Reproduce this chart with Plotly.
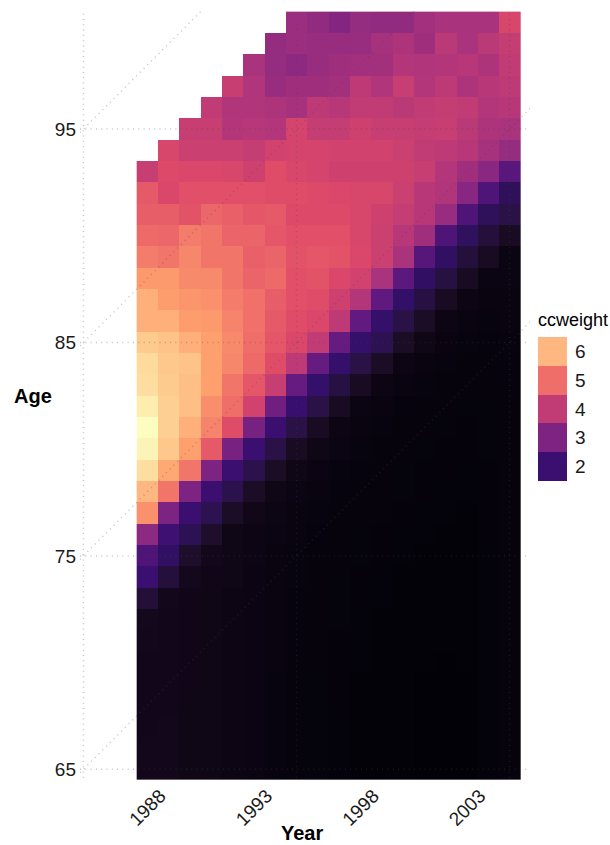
import plotly.graph_objects as go

N = None
years = list(range(1988, 2006))
ages = list(range(65, 101))
year_ticks = [1988, 1993, 1998, 2003]
age_ticks = [65, 75, 85, 95]
grid_years = [1985, 1995, 2005]
grid_ages = [65, 75, 85, 95]
cohort_starts = [65, 75, 85, 95]
legend_values = [2, 3, 4, 5, 6]

# one row per age, 65 upward; columns are 1988..2005
age_65 = [1.05,1.05,1.0,1.0,.98,.95,.92,.9,.88,.86,.85,.84,.84,.83,.83,.83,.86,.9]
age_66 = [1.05,1.05,1.0,1.0,.98,.95,.92,.9,.88,.86,.85,.84,.84,.83,.83,.83,.86,.9]
age_67 = [1.04,1.05,1.0,1.0,.98,.95,.92,.9,.88,.86,.85,.84,.84,.83,.83,.83,.86,.9]
age_68 = [1.04,1.04,1.0,1.0,.98,.95,.92,.9,.88,.87,.85,.84,.84,.83,.83,.83,.86,.9]
age_69 = [1.04,1.04,1.01,1.0,.98,.95,.92,.9,.88,.87,.85,.85,.84,.83,.83,.83,.86,.9]
age_70 = [1.04,1.04,1.01,1.0,.98,.95,.93,.9,.89,.87,.86,.85,.84,.84,.83,.84,.86,.9]
age_71 = [1.05,1.04,1.01,1.0,.98,.96,.93,.91,.89,.87,.86,.85,.85,.84,.84,.84,.86,.9]
age_72 = [1.08,1.04,1.02,1.0,.98,.96,.93,.91,.89,.88,.86,.85,.85,.84,.84,.84,.86,.9]
age_73 = [1.35,1.05,1.02,1.0,.98,.96,.93,.91,.89,.88,.87,.86,.85,.85,.84,.84,.86,.9]
age_74 = [2.0,1.4,1.08,1.02,1.0,.96,.93,.92,.9,.88,.87,.86,.85,.85,.85,.84,.86,.9]
age_75 = [2.3,1.8,1.25,1.05,1.0,.97,.94,.92,.9,.89,.88,.87,.86,.85,.85,.85,.86,.9]
age_76 = [3.23,2.05,1.65,1.25,1.0,.98,.95,.93,.91,.89,.88,.87,.86,.86,.85,.85,.87,.9]
age_77 = [5.5,3.0,2.0,1.6,1.2,1.03,.97,.94,.92,.9,.89,.88,.87,.86,.86,.85,.87,.9]
age_78 = [6.0,5.1,3.0,2.0,1.55,1.2,1.0,.96,.93,.91,.9,.89,.88,.87,.86,.86,.87,.9]
age_79 = [6.5,5.8,5.1,3.0,2.0,1.55,1.2,1.0,.95,.92,.91,.9,.88,.87,.87,.86,.87,.9]
age_80 = [6.8,6.2,5.7,4.7,2.9,2.0,1.5,1.15,1.0,.95,.92,.9,.89,.88,.87,.87,.88,.9]
age_81 = [6.95,6.3,5.9,5.3,4.5,2.9,2.0,1.5,1.15,.98,.94,.92,.9,.89,.88,.87,.88,.9]
age_82 = [6.7,6.3,6.1,5.45,5.0,4.25,2.8,1.95,1.5,1.15,.96,.93,.91,.9,.89,.88,.88,.9]
age_83 = [6.5,6.25,6.1,5.7,5.1,4.65,4.1,2.65,1.9,1.45,1.15,.98,.94,.92,.9,.89,.89,.91]
age_84 = [6.45,6.2,6.15,5.7,5.35,4.95,4.5,3.95,2.65,1.9,1.5,1.2,.98,.94,.92,.9,.9,.91]
age_85 = [6.25,6.15,5.9,5.7,5.4,5.0,4.65,4.4,4.0,2.65,1.9,1.6,1.2,1.0,.94,.92,.91,.92]
age_86 = [5.9,5.9,5.65,5.6,5.3,5.05,4.7,4.5,4.4,3.95,2.6,1.9,1.5,1.2,.98,.94,.92,.93]
age_87 = [5.9,5.65,5.55,5.5,5.2,5.05,4.75,4.55,4.5,4.2,3.8,2.55,1.85,1.45,1.15,.98,.94,.94]
age_88 = [5.6,5.6,5.4,5.4,5.1,4.85,4.95,4.55,4.6,4.4,4.25,3.65,2.5,1.8,1.45,1.15,.95,.95]
age_89 = [5.2,5.1,5.35,5.1,5.1,4.8,4.85,4.6,4.65,4.6,4.4,4.15,3.65,2.4,1.8,1.4,1.15,.95]
age_90 = [4.95,4.9,5.2,5.1,4.85,4.85,4.65,4.55,4.55,4.55,4.35,4.15,3.85,3.5,2.3,1.75,1.4,1.15]
age_91 = [4.75,4.75,4.6,4.9,4.8,4.65,4.7,4.45,4.45,4.45,4.35,4.2,4.05,3.85,3.4,2.3,1.7,1.5]
age_92 = [4.7,4.4,4.55,4.55,4.55,4.55,4.5,4.5,4.45,4.4,4.35,4.35,4.15,3.85,3.75,3.15,2.3,1.7]
age_93 = [4.1,4.45,4.4,4.4,4.35,4.2,4.5,4.35,4.3,4.2,4.2,4.2,4.2,4.1,3.8,3.5,3.2,2.45]
age_94 = [N,4.35,4.15,4.15,4.15,4.05,4.25,4.3,4.3,4.25,4.25,4.25,4.15,4.0,3.95,3.85,3.6,3.35]
age_95 = [N,N,4.1,4.1,3.8,3.85,3.8,4.3,4.05,4.05,4.2,4.1,4.1,4.05,4.1,3.9,3.7,3.65]
age_96 = [N,N,N,4.0,3.75,3.75,3.7,3.6,3.95,3.85,4.0,4.0,3.9,4.0,4.05,4.0,3.8,3.85]
age_97 = [N,N,N,N,4.1,3.75,3.4,3.5,3.5,3.55,3.95,3.75,4.1,3.8,3.95,3.7,3.85,3.95]
age_98 = [N,N,N,N,N,3.65,3.35,3.25,3.4,3.5,3.55,3.55,3.8,3.75,3.8,3.85,3.7,4.0]
age_99 = [N,N,N,N,N,N,3.35,3.45,3.4,3.4,3.4,3.6,3.7,3.5,3.9,3.65,3.9,4.05]
age_100 = [N,N,N,N,N,N,N,3.45,3.3,3.1,3.35,3.3,3.3,3.55,3.65,3.65,3.65,4.35]

ccweight = [age_65, age_66, age_67, age_68, age_69, age_70, age_71, age_72, age_73,
            age_74, age_75, age_76, age_77, age_78, age_79, age_80, age_81, age_82,
            age_83, age_84, age_85, age_86, age_87, age_88, age_89, age_90, age_91,
            age_92, age_93, age_94, age_95, age_96, age_97, age_98, age_99, age_100]

W, H = 610, 845
X_RANGE = [1984.84, 2005.96]
Y_RANGE = [64.5, 100.53]
GRID = "rgba(70,70,70,0.32)"
SCALE = [[0, "#000004"], [.02, "#06030c"], [.04, "#100618"], [.07, "#1c0d26"], [.12, "#2a1248"],
         [.18, "#33106a"], [.2, "#3b0f70"], [.3, "#641a80"], [.4, "#8c2981"], [.5, "#b73779"],
         [.6, "#de4968"], [.65, "#e85e68"], [.7, "#f2736a"], [.8, "#fe9f6d"], [.9, "#fecf92"],
         [1, "#fcfdbf"]]
Z_MIN, Z_MAX = 0.77, 6.92
FONT = "Liberation Sans"

fig = go.Figure()
fig.add_trace(go.Heatmap(x=years, y=ages, z=ccweight, colorscale=SCALE, zmin=Z_MIN, zmax=Z_MAX,
                         showscale=False, hoverongaps=False))


def grid_line(xs, ys):
    fig.add_trace(go.Scatter(x=xs, y=ys, mode="lines", hoverinfo="skip", showlegend=False,
                             line=dict(color=GRID, width=1.5, dash="1px,4.3px")))


for a in grid_ages:
    grid_line(X_RANGE, [a, a])
for y in grid_years:
    grid_line([y, y], [Y_RANGE[0] + 0.1, Y_RANGE[1] - 0.1])
for a in cohort_starts:
    grid_line(X_RANGE, [a + X_RANGE[0] - grid_years[0], a + X_RANGE[1] - grid_years[0]])

fig.add_trace(go.Heatmap(x=[0], y=legend_values, z=[[v] for v in legend_values], colorscale=SCALE,
                         zmin=Z_MIN, zmax=Z_MAX, showscale=False, xaxis="x2", yaxis="y2",
                         hoverinfo="skip"))

tick_font = dict(family=FONT, size=19, color="#1a1a1a")
fig.update_layout(
    width=W, height=H, autosize=False, margin=dict(l=0, r=0, t=0, b=0),
    paper_bgcolor="white", plot_bgcolor="white", showlegend=False,
    font=dict(family=FONT),
    xaxis=dict(domain=[80 / W, 530 / W], range=X_RANGE, showgrid=False, zeroline=False,
               tickmode="array", tickvals=year_ticks, ticktext=[str(v) for v in year_ticks],
               tickangle=-45, tickfont=tick_font, ticks="", ticklabelshift=13,
               ticklabelstandoff=0, automargin=False),
    yaxis=dict(domain=[1 - 780 / H, 1 - 11 / H], range=Y_RANGE, showgrid=False, zeroline=False,
               tickmode="array", tickvals=age_ticks, ticktext=[str(v) for v in age_ticks],
               tickfont=tick_font, ticks="", ticklabelstandoff=3, automargin=False),
    xaxis2=dict(domain=[538 / W, 567 / W], range=[-0.5, 0.5], visible=False, anchor="y2"),
    yaxis2=dict(domain=[1 - 481 / H, 1 - 337 / H], range=[1.5, 6.5], anchor="x2", side="right",
                tickmode="array", tickvals=legend_values, ticktext=[str(v) for v in legend_values],
                tickfont=tick_font, ticks="", showgrid=False, zeroline=False,
                ticklabelstandoff=7, automargin=False),
    annotations=[
        dict(text="<b>Age</b>", xref="paper", yref="paper", x=33 / W, y=1 - 396 / H, showarrow=False,
             xanchor="center", yanchor="middle", font=dict(family=FONT, size=20, color="black")),
        dict(text="<b>Year</b>", xref="paper", yref="paper", x=302 / W, y=1 - 833 / H, showarrow=False,
             borderpad=0, xanchor="center", yanchor="middle",
             font=dict(family=FONT, size=20, color="black")),
        dict(text="ccweight", xref="paper", yref="paper", x=536 / W, y=1 - 320 / H, xanchor="left",
             yanchor="middle", showarrow=False, font=dict(family=FONT, size=18, color="black")),
    ],
)

fig.write_html("out.html", config={"displayModeBar": False},
               post_script="document.body.style.margin='0';")
